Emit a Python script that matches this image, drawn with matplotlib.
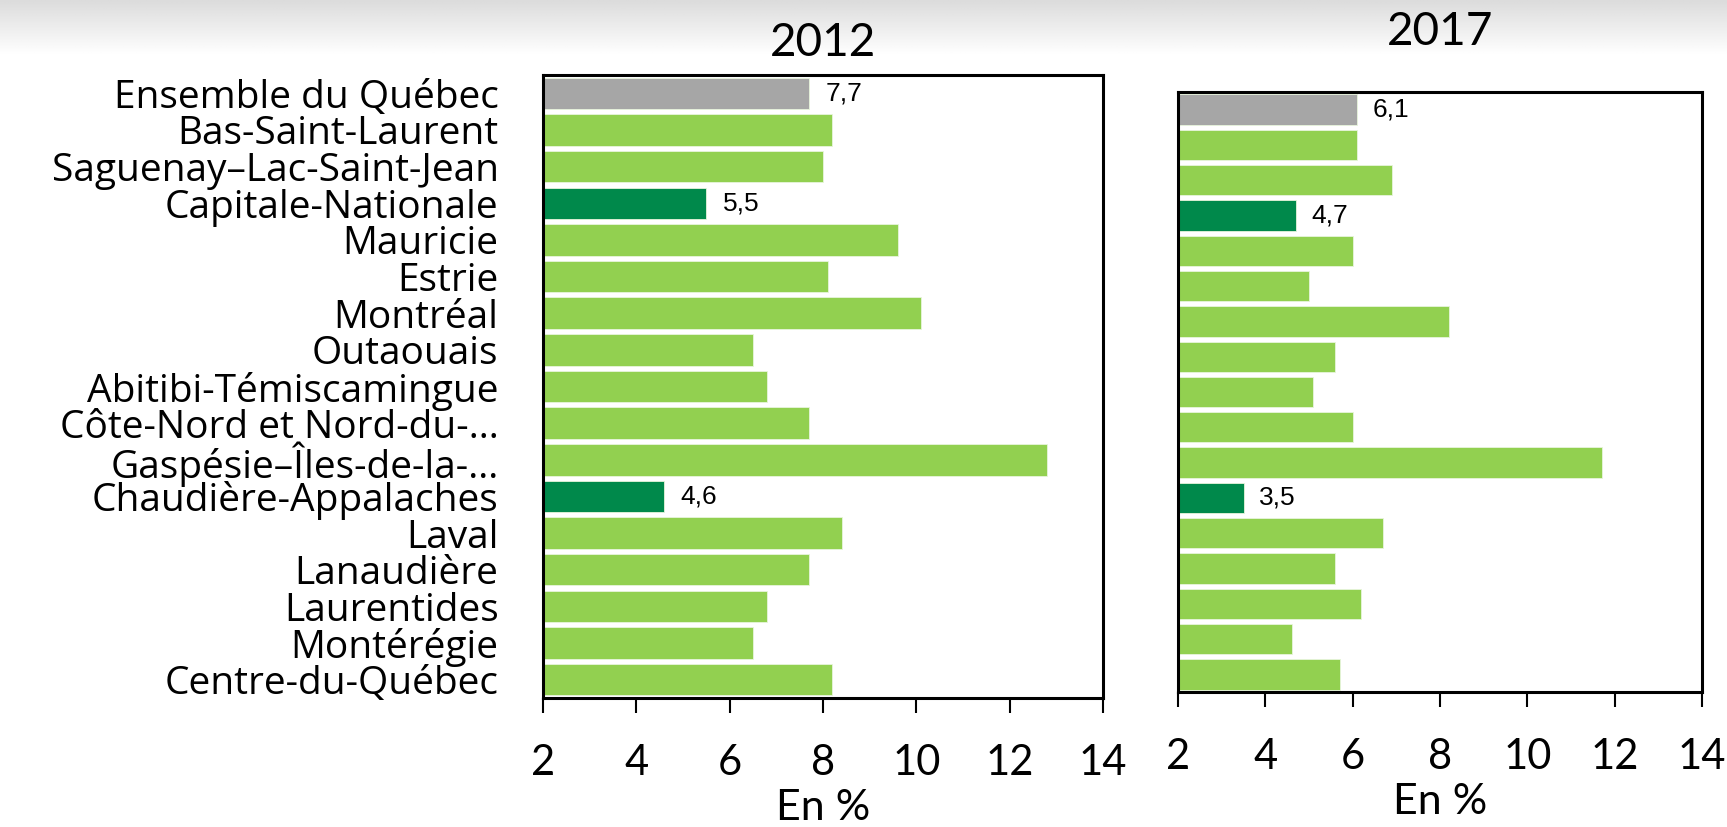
import numpy as np
import matplotlib
matplotlib.use("Agg")
import matplotlib.pyplot as plt

# =========================
# DATA
# =========================

regions = [
    "Ensemble du Québec",
    "Bas-Saint-Laurent",
    "Saguenay–Lac-Saint-Jean",
    "Capitale-Nationale",
    "Mauricie",
    "Estrie",
    "Montréal",
    "Outaouais",
    "Abitibi-Témiscamingue",
    "Côte-Nord et Nord-du-…",
    "Gaspésie–Îles-de-la-…",
    "Chaudière-Appalaches",
    "Laval",
    "Lanaudière",
    "Laurentides",
    "Montérégie",
    "Centre-du-Québec",
]

values_2012 = [7.7, 8.2, 8.0, 5.5, 9.6, 8.1, 10.1, 6.5, 6.8, 7.7, 12.8, 4.6, 8.4, 7.7, 6.8, 6.5, 8.2]
values_2017 = [6.1, 6.1, 6.9, 4.7, 6.0, 5.0, 8.2, 5.6, 5.1, 6.0, 11.7, 3.5, 6.7, 5.6, 6.2, 4.6, 5.7]

# which bars get a value label / dark colour
highlight = ["Ensemble du Québec", "Capitale-Nationale", "Chaudière-Appalaches"]

x_ticks = [2, 4, 6, 8, 10, 12, 14]

GREY = "#A6A6A6"
LIGHT = "#92D050"
DARK = "#00894B"

LABEL_FONT = ["Open Sans", "DejaVu Sans"]
NUM_FONT = ["Lato", "DejaVu Sans"]
VALUE_FONT = ["Liberation Sans", "DejaVu Sans"]


def bar_colors(names):
    cols = []
    for n in names:
        if n == "Ensemble du Québec":
            cols.append(GREY)
        elif n in highlight:
            cols.append(DARK)
        else:
            cols.append(LIGHT)
    return cols


def fmt(v):
    return f"{v:.1f}".replace(".", ",")


# =========================
# FIGURE
# =========================

fig = plt.figure(figsize=(17.27, 8.27), dpi=100)

# faded banner at the top
bg = fig.add_axes([0, 1 - 55 / 827, 1, 55 / 827], zorder=-5)
grad = np.linspace(0.86, 1.0, 100).reshape(-1, 1)
bg.imshow(np.repeat(grad, 10, axis=1), cmap="gray", vmin=0, vmax=1,
          aspect="auto", extent=[0, 1, 0, 1])
bg.axis("off")

ax1 = fig.add_axes([543 / 1727, 1 - 698 / 827, 560 / 1727, 623 / 827])
ax2 = fig.add_axes([1178 / 1727, 1 - 692 / 827, 524 / 1727, 600 / 827])

y = np.arange(len(regions))

panels = [
    (ax1, values_2012, "2012", 14, True),
    (ax2, values_2017, "2017", 34, False),
]

for ax, vals, year, tpad, show_labels in panels:
    ax.barh(y, vals, height=0.86, color=bar_colors(regions),
            edgecolor="#E8F5DC", linewidth=0.6)
    ax.set_xlim(2, 14)
    ax.set_ylim(len(regions) - 0.5, -0.5)
    ax.set_xticks(x_ticks)
    ax.set_xticklabels([str(t) for t in x_ticks], fontsize=30, family=NUM_FONT)
    ax.tick_params(axis="x", direction="out", length=11, width=1.5, pad=22)
    for s in ax.spines.values():
        s.set_linewidth(2.2)
        s.set_color("black")

    if show_labels:
        ax.set_yticks(y)
        ax.set_yticklabels(regions, fontsize=28, family=LABEL_FONT)
        ax.tick_params(axis="y", length=0, pad=32)
    else:
        ax.set_yticks([])

    for i, (n, v) in enumerate(zip(regions, vals)):
        if n in highlight:
            ax.text(v + 0.35, i, fmt(v), va="center", ha="left",
                    fontsize=19, family=VALUE_FONT)

    ax.set_title(year, fontsize=33, family=NUM_FONT, pad=tpad)
    ax.set_xlabel("En %", fontsize=31, family=NUM_FONT, labelpad=5)

fig.savefig("out.png", dpi=100)
